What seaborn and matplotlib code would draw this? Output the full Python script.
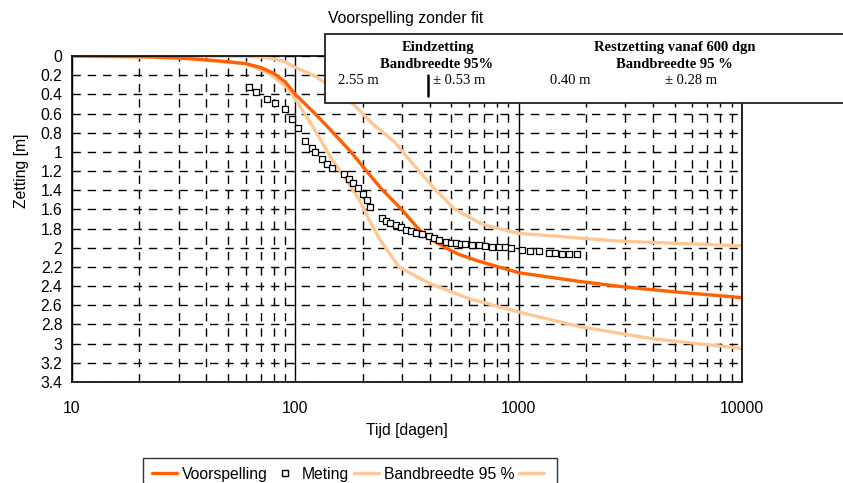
import matplotlib
matplotlib.use("Agg")
import matplotlib.pyplot as plt
from matplotlib.lines import Line2D
from matplotlib.patches import Rectangle
from matplotlib.ticker import FixedLocator, NullFormatter
import seaborn as sns
import numpy as np

# data
pred_days = [10, 20, 30, 40, 50, 60, 70, 80, 90, 100, 120, 141, 179, 205, 244,
             299, 355, 397, 471, 541, 663, 1000, 1854, 3000, 5000, 10000]
pred_vals = [0.0, 0.005, 0.02, 0.04, 0.06, 0.08, 0.12, 0.18, 0.27, 0.40, 0.58,
             0.75, 1.01, 1.18, 1.39, 1.60, 1.80, 1.90, 2.00, 2.07, 2.14, 2.26,
             2.35, 2.41, 2.46, 2.52]

band_lo_days = [10, 40, 60, 70, 80, 90, 100, 123, 150, 185, 220, 279, 343, 422,
                518, 681, 781, 1000, 2790, 10000]
band_lo_vals = [0.0, 0.0, 0.005, 0.01, 0.03, 0.06, 0.12, 0.21, 0.35, 0.52, 0.70,
                0.90, 1.15, 1.39, 1.60, 1.75, 1.79, 1.85, 1.93, 1.98]

band_hi_days = [10, 30, 60, 76, 91, 100, 110, 120, 146, 170, 192, 220, 240, 291,
                397, 597, 1000, 1854, 4000, 10000]
band_hi_vals = [0.0, 0.02, 0.08, 0.18, 0.32, 0.45, 0.60, 0.74, 1.08, 1.30, 1.49,
                1.76, 1.92, 2.20, 2.37, 2.53, 2.67, 2.82, 2.95, 3.05]

meas_days = [62, 67, 75, 81, 90, 97, 103, 110, 119, 123, 132, 138, 146, 166, 174,
             182, 190, 201, 210, 216, 244, 254, 265, 282, 296, 312, 328, 346, 368,
             397, 417, 440, 471, 496, 522, 549, 578, 619, 663, 710, 760, 814, 873,
             928, 1035, 1128, 1228, 1361, 1458, 1561, 1672, 1820]
meas_vals = [0.32, 0.38, 0.45, 0.49, 0.55, 0.66, 0.75, 0.89, 0.96, 1.00, 1.07,
             1.13, 1.17, 1.23, 1.28, 1.32, 1.38, 1.44, 1.50, 1.58, 1.69, 1.72,
             1.74, 1.76, 1.78, 1.81, 1.83, 1.85, 1.86, 1.88, 1.90, 1.92, 1.94,
             1.95, 1.95, 1.96, 1.96, 1.97, 1.97, 1.98, 1.99, 1.99, 1.99, 2.00,
             2.02, 2.03, 2.03, 2.05, 2.05, 2.06, 2.06, 2.07]

x_ticks = [10, 100, 1000, 10000]
y_ticks = [round(0.2 * i, 1) for i in range(18)]

ORANGE = "#ff6000"
PEACH = "#ffc794"
FS = 11.3

sns.set_style("white")
plt.rcParams['font.family'] = ['Liberation Sans', 'DejaVu Sans']
plt.rcParams['text.color'] = 'black'
plt.rcParams['axes.labelcolor'] = 'black'

fig = plt.figure(figsize=(8.43, 4.83), dpi=100)
ax = fig.add_axes([72 / 843, 1 - 382 / 483, 670 / 843, 326 / 483])

ax.set_xscale("log")
ax.set_xlim(10, 10000)
ax.set_ylim(3.4, 0)

# grid
ax.set_yticks(y_ticks)
ax.set_yticklabels(["%g" % v for v in y_ticks])
ax.xaxis.set_major_locator(FixedLocator(x_ticks))
ax.set_xticklabels([str(v) for v in x_ticks])
minors = [m * 10 ** e for e in (1, 2, 3) for m in range(2, 10)]
ax.xaxis.set_minor_locator(FixedLocator(minors))
ax.xaxis.set_minor_formatter(NullFormatter())
ax.grid(which="major", axis="x", color="black", linestyle="-", linewidth=1)
ax.grid(which="minor", axis="x", color="black", linestyle=(0, (6, 5)), linewidth=1)
ax.grid(which="major", axis="y", color="black", linestyle=(0, (6, 5)), linewidth=1)
ax.set_axisbelow(True)

sns.lineplot(x=band_lo_days, y=band_lo_vals, ax=ax, color=PEACH, linewidth=2.4,
             sort=False, estimator=None)
sns.lineplot(x=band_hi_days, y=band_hi_vals, ax=ax, color=PEACH, linewidth=2.4,
             sort=False, estimator=None)
sns.lineplot(x=pred_days, y=pred_vals, ax=ax, color=ORANGE, linewidth=2.4,
             sort=False, estimator=None)
sns.scatterplot(x=meas_days, y=meas_vals, ax=ax, marker="s", s=22,
                facecolor="white", edgecolor="black", linewidth=0.9, zorder=5)

for sp in ax.spines.values():
    sp.set_visible(True)
    sp.set_color("black")
    sp.set_linewidth(1.2)

ax.tick_params(axis="both", which="both", length=0, labelsize=FS,
               colors="black", labelcolor="black")
ax.tick_params(axis="x", pad=14)
ax.tick_params(axis="y", pad=7)
ax.set_xlabel("Tijd [dagen]", fontsize=FS, labelpad=5)
ax.set_ylabel("Zetting [m]", fontsize=FS)
ax.yaxis.set_label_coords(-0.064, 0.647)

fig.text(328 / 843, 1 - 18 / 483, "Voorspelling zonder fit", fontsize=FS,
         ha="left", va="center")

# info box
fig.patches.append(Rectangle((325 / 843, 1 - 103 / 483), 0.7, 69 / 483,
                             transform=fig.transFigure, facecolor="white",
                             edgecolor="#222222", linewidth=1.3, zorder=10))
serif = ['Liberation Serif', 'DejaVu Serif']
kw = dict(family=serif, fontsize=10.5, va="center", zorder=11)
fig.text(438 / 843, 1 - 48 / 483, "Eindzetting", ha="center", weight="bold", **kw)
fig.text(437 / 843, 1 - 65 / 483, "Bandbreedte 95%", ha="center", weight="bold", **kw)
fig.text(338 / 843, 1 - 81 / 483, "2.55 m", ha="left", **kw)
fig.text(433 / 843, 1 - 81 / 483, "± 0.53 m", ha="left", **kw)
fig.add_artist(Line2D([428 / 843, 428 / 843], [1 - 75 / 483, 1 - 96 / 483],
                      transform=fig.transFigure, color="black", linewidth=1.8,
                      zorder=11))
fig.text(675 / 843, 1 - 48 / 483, "Restzetting vanaf 600 dgn", ha="center",
         weight="bold", **kw)
fig.text(674 / 843, 1 - 65 / 483, "Bandbreedte 95 %", ha="center", weight="bold", **kw)
fig.text(550 / 843, 1 - 81 / 483, "0.40 m", ha="left", **kw)
fig.text(665 / 843, 1 - 81 / 483, "± 0.28 m", ha="left", **kw)

# legend
handles = [
    Line2D([], [], color=ORANGE, linewidth=2.4),
    Line2D([], [], marker="s", markersize=4.5, markerfacecolor="white",
           markeredgecolor="black", linestyle="none"),
    Line2D([], [], color=PEACH, linewidth=2.4),
    Line2D([], [], color=PEACH, linewidth=2.4),
]
labels = ["Voorspelling", "Meting", "Bandbreedte 95 %", ""]
leg = fig.legend(handles, labels, loc="upper left",
                 bbox_to_anchor=(143 / 843, 1 - 458 / 483), ncol=4, fontsize=FS,
                 frameon=True, fancybox=False, handlelength=1.6, handletextpad=0.3,
                 columnspacing=0.3, borderpad=0.55, borderaxespad=0)
leg.get_frame().set_edgecolor("black")
leg.get_frame().set_linewidth(1.0)

fig.savefig("out.png", dpi=100, facecolor="white")
